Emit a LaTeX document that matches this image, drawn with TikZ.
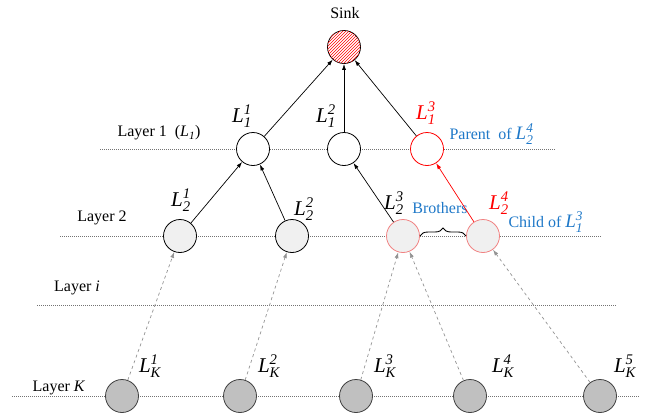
\documentclass[tikz,border=0pt]{standalone}
\usepackage{amsmath}
\usepackage{fontspec}
\setmainfont{Liberation Serif}
\usetikzlibrary{patterns,decorations.pathreplacing,arrows.meta}
\definecolor{tagblue}{RGB}{30,120,200}
\definecolor{softred}{RGB}{240,130,130}
\definecolor{fillK}{RGB}{192,192,192}
\definecolor{fillTwo}{RGB}{240,240,240}
\newcommand{\Lab}[2]{$\textit{L}^{\textit{#1}}_{\textit{#2}}$}
\newcommand{\BigL}[2]{{\fontsize{19}{21}\selectfont\Lab{#1}{#2}}}
\begin{document}
\begin{tikzpicture}[x=1pt,y=-1pt,
  every node/.style={font=\rmfamily\fontsize{16}{18}\selectfont},
  nd/.style={circle,draw,minimum size=33pt,inner sep=0pt,line width=0.8pt},
  lay/.style={draw=black!55,line width=1pt,dash pattern=on 1pt off 1pt},
  up/.style={-{Latex[length=6pt,width=4pt]},line width=0.7pt},
  feed/.style={draw=gray!85,dashed,line width=0.7pt,-{Latex[length=6pt,width=4pt]}},
  lab/.style={font=\rmfamily\fontsize{21}{23}\selectfont,inner sep=0pt},
  bracestyle/.style={decorate,decoration={brace,amplitude=8pt},line width=0.9pt}
]
\useasboundingbox (0,0) rectangle (650,413);

% layer guide lines
\draw[lay] (100,149) -- (555,149);
\draw[lay] (60,236) -- (602,236);
\draw[lay] (37,305) -- (617,305);
\draw[lay] (12,396) -- (640,396);

% layer captions
\node at (159,133) {Layer 1\ \ (\textit{L}$_{\textit{1}}$)};
\node at (102,218) {Layer 2};
\node at (77,288) {Layer \textit{i}};
\node at (59,388) {Layer \textit{K}};

% sink
\node at (345,13) {Sink};
\node[nd,fill=white,postaction={pattern=north east lines,pattern color=red}] (sink) at (344,47) {};

% layer 1
\node[nd,fill=white] (a1) at (253,149) {};
\node[nd,fill=white] (a2) at (344,149) {};
\node[nd,fill=white,draw=red] (a3) at (427,149) {};

% layer 2
\node[nd,fill=fillTwo] (b1) at (180,236) {};
\node[nd,fill=fillTwo] (b2) at (292,236) {};
\node[nd,fill=fillTwo,draw=softred] (b3) at (403,236) {};
\node[nd,fill=fillTwo,draw=softred] (b4) at (483,236) {};

% layer K
\node[nd,fill=fillK,draw=black!75] (k1) at (122,396) {};
\node[nd,fill=fillK,draw=black!75] (k2) at (240,396) {};
\node[nd,fill=fillK,draw=black!75] (k3) at (356,396) {};
\node[nd,fill=fillK,draw=black!75] (k4) at (470,396) {};
\node[nd,fill=fillK,draw=black!75] (k5) at (600,396) {};

% node labels
\node[lab] at (242,116) {\Lab{1}{1}};
\node[lab] at (326,116) {\Lab{2}{1}};
\node[lab,text=red] at (426,113) {\Lab{3}{1}};
\node[lab] at (181,200) {\Lab{1}{2}};
\node[lab] at (304,209) {\Lab{2}{2}};
\node[lab] at (394,203) {\Lab{3}{2}};
\node[lab,text=red] at (499,203) {\Lab{4}{2}};
\node[lab] at (150,366) {\Lab{1}{K}};
\node[lab] at (269,366) {\Lab{2}{K}};
\node[lab] at (385,366) {\Lab{3}{K}};
\node[lab] at (503,366) {\Lab{4}{K}};
\node[lab] at (625,366) {\Lab{5}{K}};

% annotations
\node[text=tagblue,anchor=west] at (446,134) {Parent\ \ of \BigL{4}{2}};
\node[text=tagblue] at (440,208) {Brothers};
\node[text=tagblue,anchor=west] at (505,222) {Child of \BigL{3}{1}};
\draw[bracestyle] (b3.east) -- (b4.west);

% upward links
\draw[up] (a1) -- (sink);
\draw[up] (a2) -- (sink);
\draw[up] (a3) -- (sink);
\draw[up] (b1) -- (a1);
\draw[up] (b2) -- (a1);
\draw[up] (b3) -- (a2);
\draw[up,draw=red] (b4) -- (a3);

% reports from layer K
\draw[feed] (k1) -- (b1);
\draw[feed] (k2) -- (b2);
\draw[feed] (k3) -- (b3);
\draw[feed] (k4) -- (b3);
\draw[feed] (k5) -- (b4);
\end{tikzpicture}
\end{document}
